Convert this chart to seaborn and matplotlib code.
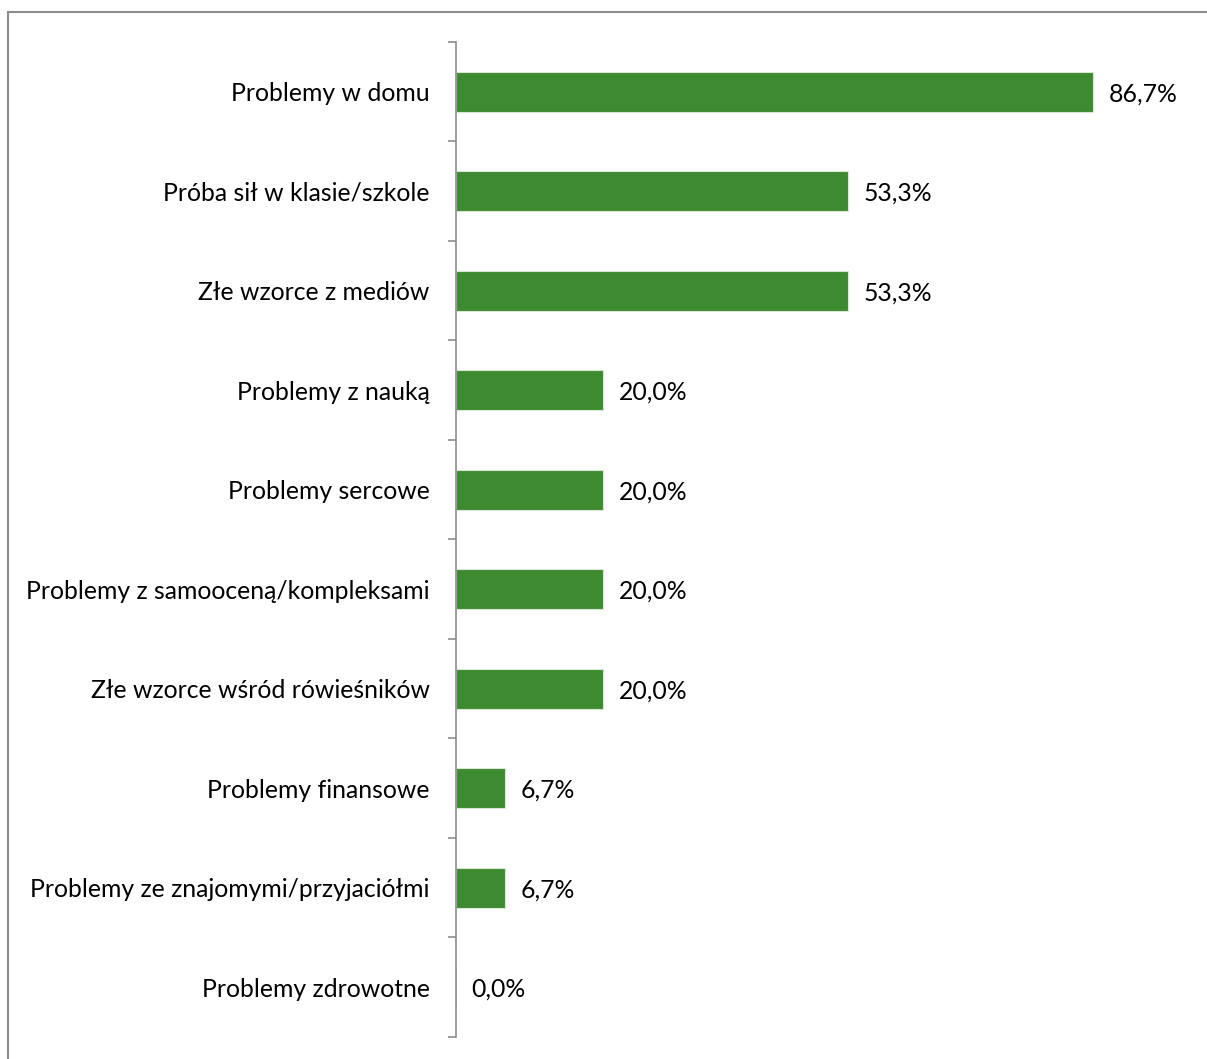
import matplotlib
matplotlib.use("Agg")
import matplotlib.pyplot as plt
import matplotlib.patches as mpatches
import numpy as np
import pandas as pd
import seaborn as sns

categories = [
    "Problemy w domu",
    "Próba sił w klasie/szkole",
    "Złe wzorce z mediów",
    "Problemy z nauką",
    "Problemy sercowe",
    "Problemy z samooceną/kompleksami",
    "Złe wzorce wśród rówieśników",
    "Problemy finansowe",
    "Problemy ze znajomymi/przyjaciółmi",
    "Problemy zdrowotne",
]
values = [86.7, 53.3, 53.3, 20.0, 20.0, 20.0, 20.0, 6.7, 6.7, 0.0]

sns.set_style("white")
plt.rcParams["font.family"] = ["Lato", "DejaVu Sans"]

df = pd.DataFrame({"cat": categories, "val": values})

fig = plt.figure(figsize=(12.07, 10.59), dpi=100)
ax = fig.add_axes([456 / 1207, 1 - 1037 / 1059, (1191 - 456) / 1207, (1037 - 42) / 1059])

sns.barplot(data=df, x="val", y="cat", color="#3d8a31", saturation=1,
            width=0.4, edgecolor="#d9e8d5", linewidth=0.8, ax=ax)

ax.set_xlim(0, 100)
ax.set_ylim(len(categories) - 0.5, -0.5)
ax.set_xlabel("")
ax.set_ylabel("")
ax.set_xticks([])

for s in ["top", "right", "bottom"]:
    ax.spines[s].set_visible(False)
ax.spines["left"].set_color("#8c8c8c")
ax.spines["left"].set_linewidth(1.2)

fs = 17.8
ax.tick_params(axis="y", which="major", length=0, pad=19, labelsize=fs, labelcolor="black")
ax.set_yticks(np.arange(-0.5, len(categories), 1), minor=True)
ax.tick_params(axis="y", which="minor", left=True, length=6, width=1.2,
               color="#8c8c8c", direction="out")

for i, v in enumerate(values):
    ax.text(v + 2.1, i + 0.02, f"{v:.1f}%".replace(".", ","), va="center", ha="left",
            fontsize=fs, color="black")

# outer chart border
fig.patches.append(mpatches.Rectangle((8 / 1207, -0.05), 1.1, 1 - 12 / 1059 + 0.05,
                                      transform=fig.transFigure, fill=False,
                                      edgecolor="#8c8c8c", linewidth=1.5))

fig.savefig("out.png", dpi=100, facecolor="white")
